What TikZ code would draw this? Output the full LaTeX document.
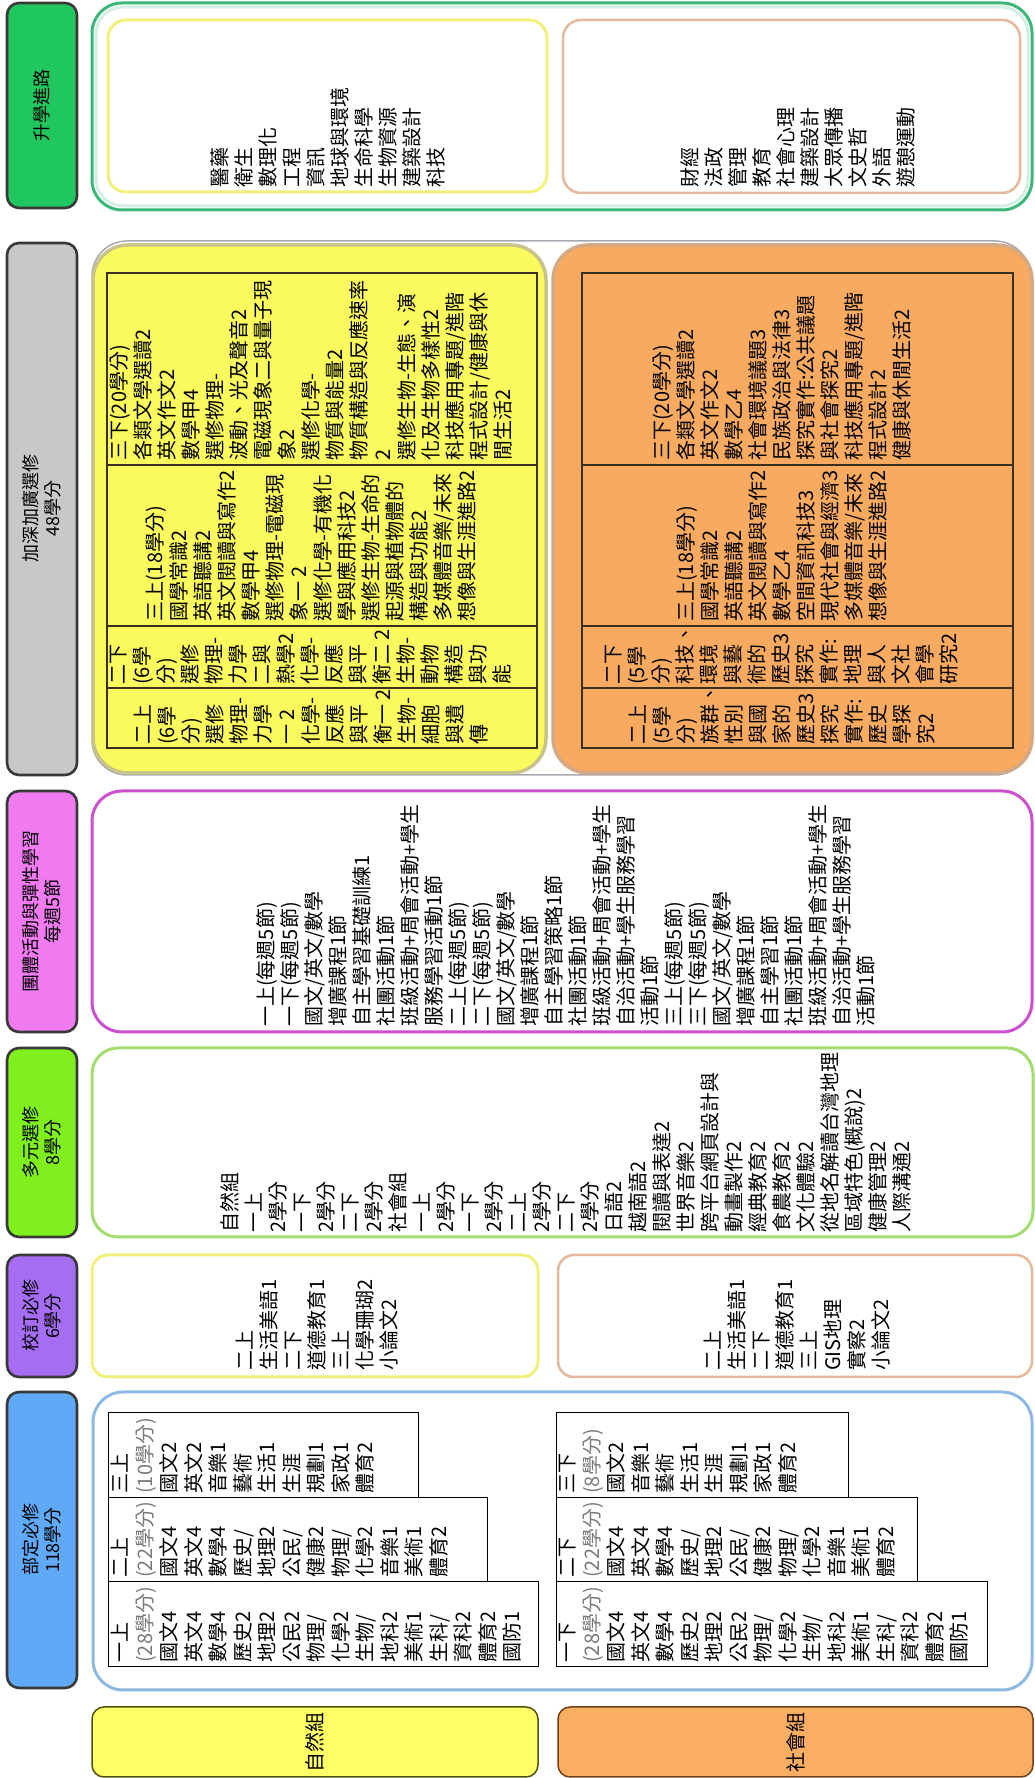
\documentclass[tikz,border=0pt]{standalone}
\usepackage{fontspec}
\setmainfont{Noto Sans CJK TC}
\definecolor{cHa}{HTML}{20C65E}
\definecolor{cHb}{HTML}{C8C8C8}
\definecolor{cHc}{HTML}{F07AF0}
\definecolor{cHd}{HTML}{7FF01E}
\definecolor{cHe}{HTML}{A56DF2}
\definecolor{cHf}{HTML}{5FA9F6}
\definecolor{cGreenLine}{HTML}{3DB67A}
\definecolor{cGreenGlow}{HTML}{D4F0E2}
\definecolor{cYelLine}{HTML}{F0F07A}
\definecolor{cTanLine}{HTML}{E6B99C}
\definecolor{cPinkLine}{HTML}{CC4FCC}
\definecolor{cLimeLine}{HTML}{A3DC70}
\definecolor{cBlueLine}{HTML}{8DB9E2}
\definecolor{cGreyLine}{HTML}{A9A9B3}
\definecolor{cYelFill}{HTML}{FAFA5E}
\definecolor{cYelEdge}{HTML}{C8C388}
\definecolor{cOrgFill}{HTML}{F7AA60}
\definecolor{cOrgEdge}{HTML}{D4A985}
\definecolor{cNat}{HTML}{FFFF66}
\definecolor{cNatEdge}{HTML}{50500F}
\definecolor{cSoc}{HTML}{F9AE63}
\definecolor{cSocEdge}{HTML}{70401A}
\definecolor{cCredit}{HTML}{7A7A7A}
\definecolor{cTblLine}{HTML}{3A3020}
\begin{document}
\begin{tikzpicture}[x=1pt,y=1pt,
  hdr/.style={draw=black!78, line width=2.6pt, rounded corners=12pt, minimum height=70pt,
    inner sep=0pt, rotate=90, align=center, font=\fontsize{18}{22}\selectfont},
  panel/.style={line width=3pt, fill=white, inner sep=0pt},
  txt/.style={rotate=90, anchor=west, inner sep=0pt, align=left, font=\fontsize{20}{24}\selectfont},
  tbltxt/.style={rotate=90, anchor=north west, inner sep=0pt, align=left, font=\fontsize{20}{24.5}\selectfont},
  cellbox/.style={draw=black, line width=1pt, fill=white, inner sep=0pt},
  deepcell/.style={draw=cTblLine, line width=1.6pt, inner sep=0pt},
  grp/.style={line width=1.5pt, rounded corners=12pt, inner sep=0pt, rotate=90,
    font=\fontsize{20}{24}\selectfont},
  cr/.style={text=cCredit}]
\useasboundingbox (0,0) rectangle (1035,1778);

% ---------- headers ----------
\node[hdr, fill=cHa, minimum width=205pt] (h1) at (42,1672.5) {升學進路};
\node[hdr, fill=cHb, minimum width=532pt] (h2) at (42,1269) {加深加廣選修\\48學分};
\node[hdr, fill=cHc, minimum width=241pt] (h3) at (42,866.5) {團體活動與彈性學習\\每週5節};
\node[hdr, fill=cHd, minimum width=189pt] (h4) at (42,635.5) {多元選修\\8學分};
\node[hdr, fill=cHe, minimum width=122pt] (h5) at (42,462) {校訂必修\\6學分};
\node[hdr, fill=cHf, minimum width=296pt] (h6) at (42,238) {部定必修\\118學分};

% ---------- 升學進路 ----------
\node[panel, draw=cGreenLine, rounded corners=30pt, minimum width=940pt, minimum height=207pt] (s0) at (562,1671.5) {};
\node[draw=cGreenGlow, line width=3pt, rounded corners=27pt, minimum width=932pt, minimum height=199pt, inner sep=0pt] (s0g) at (562,1671.5) {};
\node[panel, draw=cYelLine, rounded corners=18pt, minimum width=439pt, minimum height=172pt] (sa) at (327.5,1672) {};
\node[panel, draw=cTanLine, line width=2.5pt, rounded corners=18pt, minimum width=457pt, minimum height=173pt] (sb) at (791.5,1671.5) {};
\node[txt] (sat) at (328,1590) {醫藥\\衛生\\數理化\\工程\\資訊\\地球與環境\\生命科學\\生物資源\\建築設計\\科技};
\node[txt] (sbt) at (798,1590) {財經\\法政\\管理\\教育\\社會心理\\建築設計\\大眾傳播\\文史哲\\外語\\遊憩運動};

% ---------- 加深加廣選修 ----------
\node[draw=cGreyLine, line width=1.5pt, rounded corners=35pt, minimum width=938pt, minimum height=534pt, inner sep=0pt] (d0) at (561,1270) {};
\node[draw=cYelEdge, fill=cYelFill, line width=3.5pt, rounded corners=35pt, minimum width=453pt, minimum height=528pt, inner sep=0pt] (da) at (319.5,1269) {};
\node[draw=cOrgEdge, fill=cOrgFill, line width=3.5pt, rounded corners=35pt, minimum width=479pt, minimum height=528pt, inner sep=0pt] (db) at (792.5,1269) {};
% yellow table rows
\node[deepcell, minimum width=430pt, minimum height=192pt] (ya) at (322,1409) {};
\node[deepcell, minimum width=430pt, minimum height=161pt] (yb) at (322,1232.5) {};
\node[deepcell, minimum width=430pt, minimum height=62pt] (yc) at (322,1121) {};
\node[deepcell, minimum width=430pt, minimum height=60pt] (yd) at (322,1060) {};
% orange table rows
\node[deepcell, minimum width=431pt, minimum height=192pt] (oa) at (797.5,1409) {};
\node[deepcell, minimum width=431pt, minimum height=161pt] (ob) at (797.5,1232.5) {};
\node[deepcell, minimum width=431pt, minimum height=62pt] (oc) at (797.5,1121) {};
\node[deepcell, minimum width=431pt, minimum height=60pt] (od) at (797.5,1060) {};
% yellow texts
\node[txt] (yat) at (311,1317) {三下(20學分)\\各類文學選讀2\\英文作文2\\數學甲4\\選修物理-\\波動、光及聲音2\\電磁現象二與量子現\\象2\\選修化學-\\物質與能量2\\物質構造與反應速率\\2\\選修生物-生態、演\\化及生物多樣性2\\科技應用專題/進階\\程式設計/健康與休\\閒生活2};
\node[txt] (ybt) at (311,1156) {三上(18學分)\\國學常識2\\英語聽講2\\英文閱讀與寫作2\\數學甲4\\選修物理-電磁現\\象一 2\\選修化學-有機化\\學與應用科技2\\選修生物-生命的\\起源與植物體的\\構造與功能2\\多媒體音樂/未來\\想像與生涯進路2};
\node[txt] (yct) at (311,1093) {二下\\(6學\\分)\\選修\\物理-\\力學\\二與\\熱學2\\化學-\\反應\\與平\\衡二 2\\生物-\\動物\\構造\\與功\\能};
\node[txt] (ydt) at (311,1033) {二上\\(6學\\分)\\選修\\物理-\\力學\\一 2\\化學-\\反應\\與平\\衡一 2\\生物-\\細胞\\與遺\\傳};
% orange texts
\node[txt] (oat) at (782,1317) {三下(20學分)\\各類文學選讀2\\英文作文2\\數學乙4\\社會環境議題3\\民族政治與法律3\\探究實作:公共議題\\與社會探究2\\科技應用專題/進階\\程式設計2\\健康與休閒生活2};
\node[txt] (obt) at (782,1156) {三上(18學分)\\國學常識2\\英語聽講2\\英文閱讀與寫作2\\數學乙4\\空間資訊科技3\\現代社會與經濟3\\多媒體音樂/未來\\想像與生涯進路2};
\node[txt] (oct) at (782,1093) {二下\\(5學\\分)\\科技、\\環境\\與藝\\術的\\歷史3\\探究\\實作:\\地理\\與人\\文社\\會學\\研究2};
\node[txt] (odt) at (782,1033) {二上\\(5學\\分)\\族群、\\性別\\與國\\家的\\歷史3\\探究\\實作:\\歷史\\學探\\究2};

% ---------- 團體活動與彈性學習 ----------
\node[panel, draw=cPinkLine, rounded corners=30pt, minimum width=940pt, minimum height=241pt] (g0) at (562,866.5) {};
\node[txt] (g0t) at (566,751) {一上(每週5節)\\一下(每週5節)\\國文/英文/數學\\增廣課程1節\\自主學習基礎訓練1\\社團活動1節\\班級活動+周會活動+學生\\服務學習活動1節\\二上(每週5節)\\二下(每週5節)\\國文/英文/數學\\增廣課程1節\\自主學習策略1節\\社團活動1節\\班級活動+周會活動+學生\\自治活動+學生服務學習\\活動1節\\三上(每週5節)\\三下(每週5節)\\國文/英文/數學\\增廣課程1節\\自主學習1節\\社團活動1節\\班級活動+周會活動+學生\\自治活動+學生服務學習\\活動1節};

% ---------- 多元選修 ----------
\node[panel, draw=cLimeLine, rounded corners=26pt, minimum width=941pt, minimum height=189pt] (m0) at (562.5,635.5) {};
\node[txt] (m0t) at (566,545) {自然組\\一上\\2學分\\一下\\2學分\\二下\\2學分\\社會組\\一上\\2學分\\一下\\2學分\\二上\\2學分\\二下\\2學分\\日語2\\越南語2\\閱讀與表達2\\世界音樂2\\跨平台網頁設計與\\動畫製作2\\經典教育2\\食農教育2\\文化體驗2\\從地名解讀台灣地理\\區域特色(概說)2\\健康管理2\\人際溝通2};

% ---------- 校訂必修 ----------
\node[panel, draw=cYelLine, rounded corners=16pt, minimum width=446pt, minimum height=122pt] (xa) at (315,462) {};
\node[panel, draw=cTanLine, line width=2.5pt, rounded corners=16pt, minimum width=474pt, minimum height=122pt] (xb) at (795,462) {};
\node[txt] (xat) at (317,407) {二上\\生活美語1\\二下\\道德教育1\\三上\\化學珊瑚2\\小論文2};
\node[txt] (xbt) at (797,407) {二上\\生活美語1\\二下\\道德教育1\\三上\\GIS地理\\實察2\\小論文2};

% ---------- 部定必修 ----------
\node[panel, draw=cBlueLine, rounded corners=30pt, minimum width=939pt, minimum height=298pt] (b0) at (562.5,237) {};
\node[cellbox, minimum width=310pt, minimum height=85pt] (bl3) at (263,322.5) {};
\node[cellbox, minimum width=379pt, minimum height=84pt] (bl2) at (297.5,238) {};
\node[cellbox, minimum width=430pt, minimum height=85pt] (bl1) at (323,153.5) {};
\node[cellbox, minimum width=292pt, minimum height=85pt] (br3) at (702,322.5) {};
\node[cellbox, minimum width=361pt, minimum height=84pt] (br2) at (736.5,238) {};
\node[cellbox, minimum width=431pt, minimum height=85pt] (br1) at (771.5,153.5) {};
\node[tbltxt] (bl3t) at (111,284) {三上\\{\color{cCredit}(10學分)}\\國文2\\英文2\\音樂1\\藝術\\生活1\\生涯\\規劃1\\家政1\\體育2};
\node[tbltxt] (bl2t) at (111,200) {二上\\{\color{cCredit}(22學分)}\\國文4\\英文4\\數學4\\歷史/\\地理2\\公民/\\健康2\\物理/\\化學2\\音樂1\\美術1\\體育2};
\node[tbltxt] (bl1t) at (111,115) {一上\\{\color{cCredit}(28學分)}\\國文4\\英文4\\數學4\\歷史2\\地理2\\公民2\\物理/\\化學2\\生物/\\地科2\\美術1\\生科/\\資科2\\體育2\\國防1};
\node[tbltxt] (br3t) at (559,284) {三下\\{\color{cCredit}(8學分)}\\國文2\\音樂1\\藝術\\生活1\\生涯\\規劃1\\家政1\\體育2};
\node[tbltxt] (br2t) at (559,200) {二下\\{\color{cCredit}(22學分)}\\國文4\\英文4\\數學4\\歷史/\\地理2\\公民/\\健康2\\物理/\\化學2\\音樂1\\美術1\\體育2};
\node[tbltxt] (br1t) at (559,115) {一下\\{\color{cCredit}(28學分)}\\國文4\\英文4\\數學4\\歷史2\\地理2\\公民2\\物理/\\化學2\\生物/\\地科2\\美術1\\生科/\\資科2\\體育2\\國防1};

% ---------- 組別 ----------
\node[grp, draw=cNatEdge, fill=cNat, minimum width=70pt, minimum height=446pt] (nat) at (315,36) {自然組};
\node[grp, draw=cSocEdge, fill=cSoc, minimum width=70pt, minimum height=475pt] (soc) at (795.5,36) {社會組};
\end{tikzpicture}
\end{document}
